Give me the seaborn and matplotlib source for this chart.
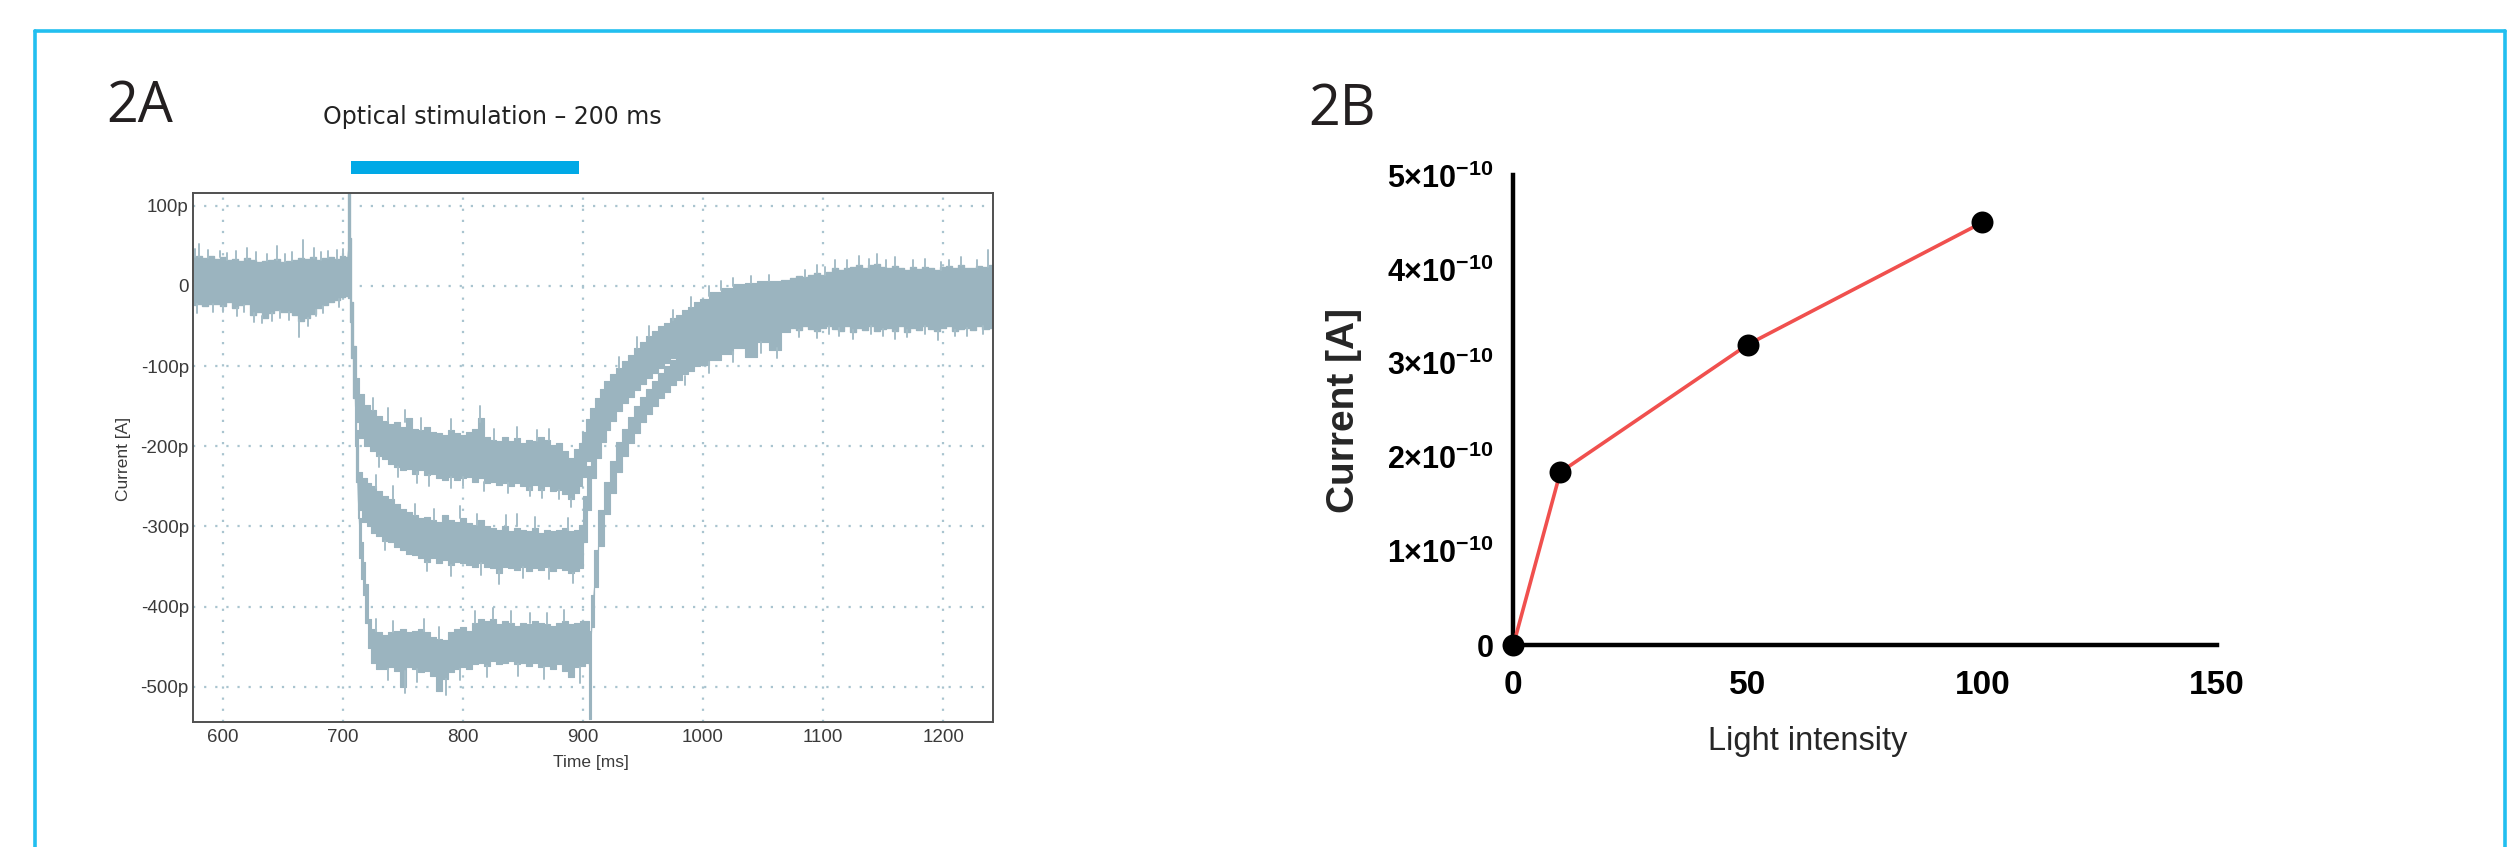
import numpy as np
import pandas as pd
import matplotlib
matplotlib.use("Agg")
import matplotlib.pyplot as plt
from matplotlib.lines import Line2D
import seaborn as sns

# ---------------- Panel 2A data (current traces, pA vs ms) ----------------
BASE_T  = [576, 580, 585, 590, 595, 600, 605, 610, 615, 620, 625, 630, 635, 640,
           645, 650, 655, 660, 665, 670, 675, 680, 685, 690, 695, 700, 704]
BASE_HI = [36, 38, 35, 37, 34, 36, 33, 34, 31, 35, 32, 30, 31, 32,
           34, 30, 31, 33, 35, 34, 36, 33, 35, 36, 34, 37, 36]
BASE_LO = [-24, -22, -25, -23, -22, -25, -20, -27, -24, -22, -36, -32, -40, -34,
           -30, -33, -32, -36, -44, -40, -35, -28, -24, -20, -17, -14, -12]

ART_T  = [705, 706.5, 708, 710]
ART_HI = [120, 60, -20, -75]
ART_LO = [-15, -45, -90, -140]

T1_T  = [712, 715, 720, 725, 730, 735, 740, 745, 750, 755, 760, 765, 770, 775, 780,
         785, 790, 795, 800, 805, 810, 815, 820, 825, 830, 835, 840, 845, 850, 855,
         860, 865, 870, 875, 880, 885, 890, 895, 898, 901, 904, 908, 912, 916, 920,
         925, 930, 935, 940, 945, 950, 955, 960, 965, 970, 975, 980, 985, 990, 995,
         1000, 1010, 1020, 1030, 1040, 1050, 1060, 1070]
T1_LO = [-170, -190, -200, -206, -212, -216, -222, -226, -230, -228, -234, -230, -236,
         -234, -240, -242, -238, -242, -240, -238, -244, -240, -246, -244, -248, -246,
         -250, -246, -250, -254, -248, -254, -250, -256, -254, -260, -266, -258, -250,
         -238, -218, -202, -188, -175, -165, -155, -145, -136, -128, -120, -112, -104,
         -98, -94, -88, -82, -78, -72, -68, -64, -60, -55, -52, -50, -48, -50, -52, -50]
T1_HI = [-115, -135, -148, -155, -162, -168, -172, -170, -176, -165, -178, -180, -176,
         -182, -184, -186, -180, -184, -186, -182, -178, -165, -188, -192, -194, -188,
         -194, -190, -196, -192, -194, -188, -192, -198, -196, -206, -214, -204, -196,
         -182, -166, -152, -140, -128, -118, -110, -102, -94, -86, -78, -70, -62,
         -56, -50, -46, -40, -36, -30, -26, -20, -16, -8, -3, 2, 4, 6, 5, 8]

T2_T  = [712, 714, 718, 722, 726, 730, 735, 740, 745, 750, 755, 760, 765, 770, 775,
         780, 785, 790, 795, 800, 805, 810, 815, 820, 825, 830, 835, 840, 845, 850,
         855, 860, 865, 870, 875, 880, 885, 890, 895, 899, 902, 905, 909, 913, 917,
         921, 925, 930, 935, 940, 945, 950, 955, 960, 965, 970, 975, 980, 985, 990,
         995, 1000, 1010, 1020, 1030, 1040, 1050, 1060, 1070]
T2_LO = [-245, -280, -295, -300, -308, -312, -318, -320, -326, -330, -334, -336, -340,
         -344, -340, -346, -342, -348, -344, -346, -348, -350, -346, -350, -352, -358,
         -350, -352, -354, -350, -356, -352, -354, -350, -356, -352, -354, -358, -356,
         -352, -320, -280, -240, -215, -195, -180, -168, -156, -146, -138, -130, -122,
         -115, -108, -102, -96, -90, -86, -80, -76, -72, -68, -62, -58, -55, -52, -54,
         -55, -52]
T2_HI = [-180, -232, -240, -246, -250, -256, -262, -266, -272, -278, -282, -286, -290,
         -288, -292, -294, -286, -292, -294, -290, -296, -298, -292, -300, -302, -304,
         -300, -306, -302, -304, -306, -302, -308, -304, -306, -304, -302, -306, -304,
         -298, -262, -225, -190, -170, -150, -136, -125, -114, -104, -96, -88, -80,
         -72, -65, -60, -55, -50, -44, -38, -34, -28, -24, -16, -10, -4, 0, 4, 6, 8]

T3_T  = [711, 712, 713, 714.5, 716, 718, 720, 722, 726, 730, 735, 740, 745, 750, 755,
         760, 765, 770, 775, 780, 785, 790, 795, 800, 805, 810, 815, 820, 825, 830,
         835, 840, 845, 850, 855, 860, 865, 870, 875, 880, 885, 890, 895, 900, 904,
         906, 908, 911, 915, 920, 925, 930, 935, 940, 945, 950, 955, 960, 965, 970,
         975, 980, 985, 990, 995, 1000, 1010, 1020, 1030, 1040, 1050, 1060, 1070]
T3_LO = [-200, -245, -290, -340, -365, -385, -420, -452, -470, -478, -478, -476, -480,
         -500, -476, -478, -482, -480, -486, -505, -490, -482, -478, -476, -478, -472,
         -470, -474, -468, -472, -470, -468, -472, -470, -474, -470, -476, -474, -478,
         -472, -480, -488, -476, -474, -470, -540, -425, -375, -325, -285, -258, -232,
         -212, -196, -183, -170, -160, -150, -140, -132, -124, -117, -110, -106, -100,
         -98, -92, -85, -78, -88, -70, -80, -58]
T3_HI = [-150, -200, -245, -290, -320, -345, -372, -415, -428, -432, -436, -432, -430,
         -428, -432, -430, -428, -432, -438, -440, -442, -432, -428, -426, -430, -420,
         -415, -418, -415, -422, -418, -420, -424, -420, -422, -418, -420, -422, -424,
         -420, -418, -422, -420, -418, -418, -430, -385, -330, -280, -245, -218, -195,
         -178, -164, -150, -138, -128, -118, -108, -100, -92, -86, -80, -74, -68,
         -62, -52, -45, -36, -30, -24, -18, -12]

TAIL_T  = [1075, 1080, 1085, 1090, 1095, 1100, 1105, 1110, 1115, 1120, 1125, 1130,
           1135, 1140, 1145, 1150, 1155, 1160, 1165, 1170, 1175, 1180, 1185, 1190,
           1195, 1200, 1205, 1210, 1215, 1220, 1225, 1230, 1235, 1241]
TAIL_HI = [10, 12, 11, 14, 16, 14, 18, 22, 20, 22, 24, 26, 22, 26, 28, 24, 22, 25,
           22, 20, 24, 21, 24, 22, 20, 24, 25, 22, 26, 23, 22, 25, 24, 26]
TAIL_LO = [-52, -55, -50, -54, -56, -52, -50, -54, -56, -50, -58, -52, -55, -50, -56,
           -54, -52, -56, -50, -58, -52, -55, -50, -54, -56, -52, -50, -56, -54, -52,
           -55, -50, -54, -52]

# isolated noise needles: (time, start, end)
SPIKES = [
    (577, 36, 46), (580, 36, 52), (588, 35, 45), (598, 36, 44), (604, 33, 41),
    (611, 34, 44), (620, 34, 48), (628, 32, 42), (637, 31, 40), (645, 33, 50),
    (652, 30, 40), (658, 31, 43), (667, 35, 57), (676, 35, 47), (682, 33, 42),
    (688, 35, 44), (695, 34, 45), (700, 37, 46),
    (579, -23, -34), (592, -23, -32), (600, -25, -33), (612, -27, -38), (618, -24, -33),
    (626, -34, -45), (633, -38, -46), (641, -34, -44), (648, -31, -40), (655, -32, -42),
    (664, -42, -64), (671, -40, -50), (678, -30, -38), (684, -25, -34), (697, -16, -26),
    (725, -155, -140), (738, -168, -152), (752, -170, -155), (765, -180, -165),
    (790, -180, -166), (814, -170, -150), (826, -192, -178), (845, -190, -176),
    (862, -194, -180), (872, -192, -178),
    (730, -212, -226), (746, -226, -238), (762, -232, -246), (772, -236, -250),
    (790, -238, -252), (800, -238, -250), (818, -244, -256), (838, -246, -258),
    (856, -252, -262), (866, -254, -265), (880, -254, -266), (890, -266, -276),
    (728, -252, -236), (742, -266, -250), (760, -286, -272), (776, -292, -278),
    (798, -290, -275), (812, -298, -284), (836, -300, -286), (845, -300, -285),
    (860, -302, -288), (888, -304, -290),
    (735, -318, -330), (770, -344, -356), (790, -348, -362), (815, -346, -360),
    (830, -356, -372), (850, -350, -364), (872, -352, -365), (892, -358, -370),
    (728, -430, -416), (742, -432, -418), (768, -430, -416), (780, -440, -425),
    (810, -420, -406), (825, -415, -402), (840, -420, -405), (856, -420, -408),
    (870, -422, -408), (884, -418, -404),
    (738, -478, -492), (752, -480, -508), (762, -478, -494), (786, -490, -510),
    (798, -478, -492), (820, -474, -488), (846, -472, -486), (868, -476, -490),
    (898, -476, -495),
    (930, -102, -88), (945, -78, -64), (955, -62, -50), (975, -42, -30), (990, -26, -14),
    (1005, -12, 0), (1015, -5, 6), (1025, 0, 10), (1040, 4, 12), (1055, 6, 14),
    (985, -112, -124), (1005, -95, -108), (1025, -82, -95), (1048, -70, -84),
    (1062, -78, -90),
    (1085, 11, 20), (1095, 16, 26), (1102, 14, 24), (1110, 22, 33), (1120, 22, 32),
    (1130, 26, 37), (1138, 22, 34), (1145, 28, 40), (1152, 24, 33), (1160, 25, 36),
    (1175, 24, 33), (1185, 24, 34), (1198, 20, 30), (1205, 25, 33), (1215, 26, 36),
    (1228, 22, 32), (1237, 24, 45),
    (1080, -55, -64), (1095, -56, -65), (1105, -50, -60), (1113, -52, -62),
    (1125, -55, -66), (1140, -50, -60), (1150, -54, -63), (1160, -56, -66),
    (1170, -55, -64), (1185, -50, -60), (1196, -56, -68), (1210, -55, -63),
    (1220, -52, -62), (1233, -50, -60),
]
SPIKE_T = [s[0] for s in SPIKES]
SPIKE_FROM = [s[1] for s in SPIKES]
SPIKE_TO = [s[2] for s in SPIKES]

STIM_START, STIM_END = 707, 897
A_XTICKS = [600, 700, 800, 900, 1000, 1100, 1200]
A_YTICKS = [-500, -400, -300, -200, -100, 0, 100]
A_YTICKLABELS = ["-500p", "-400p", "-300p", "-200p", "-100p", "0", "100p"]

# ---------------- Panel 2B data ----------------
LIGHT = [0, 10, 50, 100]
CURRENT = [0.0, 1.84e-10, 3.2e-10, 4.5e-10]
B_XTICKS = [0, 50, 100, 150]
B_YTICKS = [0, 1e-10, 2e-10, 3e-10, 4e-10, 5e-10]
B_YTICKLABELS = ["0"] + ["%d×10$^{\\mathbf{-10}}$" % k for k in range(1, 6)]

# ---------------- styling ----------------
TRACE_COLOR = "#9BB4BF"
SPIKE_COLOR = "#A5BDC7"
GRID_COLOR = "#A9C4CF"
STIM_COLOR = "#00A9E6"
BORDER_COLOR = "#22BFF0"
RED = "#F0504E"

sns.set_style("white")
plt.rcParams["font.family"] = ["Liberation Sans", "DejaVu Sans"]
plt.rcParams["mathtext.fontset"] = "custom"
plt.rcParams["mathtext.rm"] = "Liberation Sans"
plt.rcParams["mathtext.bf"] = "Liberation Sans:bold"

W, H = 2509, 847
fig = plt.figure(figsize=(W / 100, H / 100), dpi=100)
fig.patch.set_facecolor("white")


def px_axes(l, t, r, b):
    return fig.add_axes([l / W, 1 - b / H, (r - l) / W, (b - t) / H])


axA = px_axes(193, 193, 993, 722)
axB = px_axes(1513.4, 175.5, 2216.8, 645)

# ---- Panel A ----
traces = {
    "t1": (BASE_T + ART_T + T1_T + TAIL_T, BASE_LO + ART_LO + T1_LO + TAIL_LO,
           BASE_HI + ART_HI + T1_HI + TAIL_HI),
    "t2": (BASE_T + ART_T + T2_T + TAIL_T, BASE_LO + ART_LO + T2_LO + TAIL_LO,
           BASE_HI + ART_HI + T2_HI + TAIL_HI),
    "t3": (BASE_T + ART_T + T3_T + TAIL_T, BASE_LO + ART_LO + T3_LO + TAIL_LO,
           BASE_HI + ART_HI + T3_HI + TAIL_HI),
}
rows = []
for name, (tt, lo, hi) in traces.items():
    for t, a, b in zip(tt, lo, hi):
        rows.append((name, t, a))
        rows.append((name, t, b))
df = pd.DataFrame(rows, columns=["trace", "t", "v"])

axA.set_axisbelow(True)
axA.grid(True, color=GRID_COLOR, linestyle=(0, (1, 4)), linewidth=1.6)
sns.lineplot(data=df, x="t", y="v", hue="trace", palette=[TRACE_COLOR] * 3,
             estimator="mean", errorbar=("pi", 100),
             err_kws={"alpha": 1.0, "linewidth": 0.8, "edgecolor": TRACE_COLOR,
                      "step": "mid"},
             linewidth=0.6, legend=False, ax=axA)

sp_rows = []
for i, (t, a, b) in enumerate(zip(SPIKE_T, SPIKE_FROM, SPIKE_TO)):
    sp_rows += [(i, t, a), (i, t, b)]
sdf = pd.DataFrame(sp_rows, columns=["sid", "t", "v"])
sns.lineplot(data=sdf, x="t", y="v", units="sid", estimator=None, sort=False,
             color=SPIKE_COLOR, linewidth=1.4, legend=False, ax=axA)

axA.axvspan(STIM_START, STIM_END, ymin=1.036, ymax=1.0605, color=STIM_COLOR,
            lw=0, clip_on=False)

axA.set_xlim(575.4, 1241.5)
axA.set_ylim(-544, 116)
axA.set_xticks(A_XTICKS)
axA.set_xticklabels([str(v) for v in A_XTICKS])
axA.set_yticks(A_YTICKS)
axA.set_yticklabels(A_YTICKLABELS)
axA.tick_params(axis="both", length=0, labelsize=13.5, colors="#3a3a3a")
axA.tick_params(axis="x", pad=5)
axA.tick_params(axis="y", pad=3)
for s in axA.spines.values():
    s.set_visible(True)
    s.set_color("#505050")
    s.set_linewidth(1.4)
axA.set_xlabel("Time [ms]", fontsize=12.5, color="#3a3a3a")
axA.set_ylabel("Current [A]", fontsize=12.5, color="#3a3a3a")
axA.xaxis.set_label_coords(0.497, -0.0624)
axA.yaxis.set_label_coords(-0.0769, 0.497)

fig.text(492 / W, 1 - 117 / H, "Optical stimulation – 200 ms", ha="center",
         va="center", fontsize=17, family=["DejaVu Sans"], color="#222222")

# ---- Panel B ----
sns.lineplot(x=LIGHT, y=CURRENT, color=RED, linewidth=2.6, ax=axB, zorder=3)
sns.scatterplot(x=LIGHT, y=CURRENT, color="black", s=250, linewidth=0, ax=axB,
                zorder=4, clip_on=False)
axB.set_xlim(0, 150)
axB.set_ylim(0, 5e-10)
axB.set_xticks(B_XTICKS)
axB.set_xticklabels([str(v) for v in B_XTICKS], fontweight="bold", fontsize=24)
axB.set_yticks(B_YTICKS)
axB.set_yticklabels(B_YTICKLABELS, fontweight="bold", fontsize=22)
axB.tick_params(axis="both", direction="out", length=10, width=3, color="black",
                labelcolor="black")
axB.tick_params(axis="x", pad=8)
axB.tick_params(axis="y", pad=4)
for side in ["top", "right"]:
    axB.spines[side].set_visible(False)
for side in ["left", "bottom"]:
    axB.spines[side].set_color("black")
    axB.spines[side].set_linewidth(3.2)
axB.set_xlabel("Light intensity", fontsize=23.5)
axB.set_ylabel("Current [A]", fontsize=28, fontweight="bold")
axB.xaxis.set_label_coords(0.419, -0.172)
axB.yaxis.set_label_coords(-0.215, 0.5)

# ---- panel letters ----
fig.text(106 / W, 1 - 122 / H, "2A", fontsize=40, family=["Open Sans", "DejaVu Sans"],
         color="#231F20", ha="left", va="baseline")
fig.text(1308 / W, 1 - 125 / H, "2B", fontsize=40, family=["Open Sans", "DejaVu Sans"],
         color="#231F20", ha="left", va="baseline")

# ---- frame ----
bw = 2.6
fig.add_artist(Line2D([35 / W, 35 / W], [0, 1 - 31 / H], color=BORDER_COLOR, lw=bw,
                      transform=fig.transFigure))
fig.add_artist(Line2D([35 / W, 2505 / W], [1 - 31 / H, 1 - 31 / H], color=BORDER_COLOR,
                      lw=bw, transform=fig.transFigure))
fig.add_artist(Line2D([2505 / W, 2505 / W], [0, 1 - 31 / H], color=BORDER_COLOR, lw=bw,
                      transform=fig.transFigure))

fig.savefig("out.png", dpi=100, facecolor="white")
